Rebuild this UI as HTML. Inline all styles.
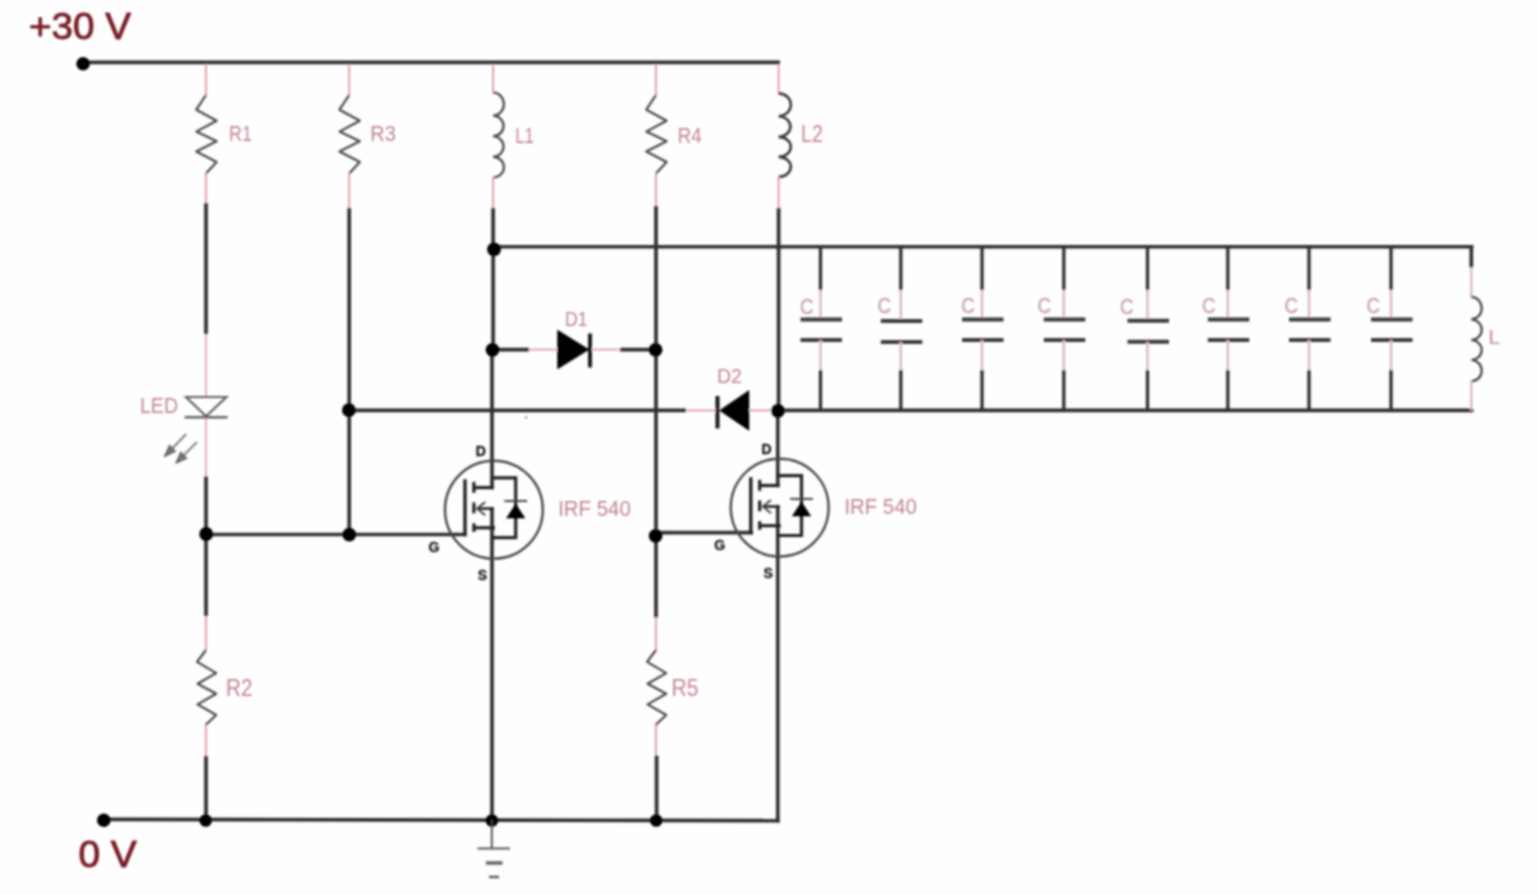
<!DOCTYPE html>
<html><head><meta charset="utf-8"><title>ZVS driver schematic</title>
<style>
html,body{margin:0;padding:0;background:#fff;}
body{width:1537px;height:895px;overflow:hidden;}
svg{display:block;font-family:"Liberation Sans",sans-serif;}
</style></head><body>
<svg width="1537" height="895" viewBox="0 0 1537 895">
<defs><filter id="b" x="-5%" y="-5%" width="110%" height="110%"><feGaussianBlur stdDeviation="0.8"/></filter></defs>
<rect width="1537" height="895" fill="#fefefe"/>
<g filter="url(#b)">
<line x1="83" y1="62.3" x2="780" y2="62.3" stroke="#2e2e2e" stroke-width="3.8" stroke-linecap="butt"/>
<circle cx="83.1" cy="63.7" r="6.8" fill="#000"/>
<line x1="104" y1="819.4" x2="779.55" y2="820.7" stroke="#2e2e2e" stroke-width="3.7" stroke-linecap="butt"/>
<circle cx="103.8" cy="820.2" r="6.8" fill="#000"/>
<line x1="206" y1="64" x2="206" y2="95" stroke="#e0959e" stroke-width="1.8" stroke-linecap="butt"/>
<path d="M206.0,95.0 L196.3,109.7 L216.6,120.8 L196.3,131.6 L216.6,141.3 L196.3,151.6 L216.6,162.0 L206.0,173.4" stroke="#444" stroke-width="2.2" fill="none" stroke-linejoin="round" stroke-linecap="butt"/>
<line x1="206" y1="173" x2="206" y2="203" stroke="#e0959e" stroke-width="1.8" stroke-linecap="butt"/>
<line x1="206" y1="203" x2="206" y2="334" stroke="#2e2e2e" stroke-width="3.7" stroke-linecap="butt"/>
<line x1="206" y1="334" x2="206" y2="397" stroke="#dc8e98" stroke-width="1.4" stroke-linecap="butt"/>
<path d="M186,397 L226.4,397 L206.1,416.2 Z" stroke="#606060" stroke-width="2.2" fill="none" stroke-linejoin="miter" stroke-linecap="butt"/>
<line x1="184.6" y1="417.2" x2="227.6" y2="417.2" stroke="#606060" stroke-width="2.4" stroke-linecap="butt"/>
<line x1="206" y1="418" x2="206" y2="476.5" stroke="#dc8e98" stroke-width="1.4" stroke-linecap="butt"/>
<line x1="206" y1="476.5" x2="206" y2="616" stroke="#2e2e2e" stroke-width="3.7" stroke-linecap="butt"/>
<line x1="206" y1="616" x2="206" y2="650" stroke="#e0959e" stroke-width="1.8" stroke-linecap="butt"/>
<path d="M206.0,650.0 L197.1,661.9 L216.2,673.1 L197.6,683.8 L216.2,693.8 L197.6,704.4 L216.2,715.0 L205.6,725.0" stroke="#444" stroke-width="2.2" fill="none" stroke-linejoin="round" stroke-linecap="butt"/>
<line x1="206" y1="725" x2="206" y2="756" stroke="#e0959e" stroke-width="1.8" stroke-linecap="butt"/>
<line x1="206" y1="756" x2="206" y2="819.8" stroke="#2e2e2e" stroke-width="3.7" stroke-linecap="butt"/>
<line x1="186.2" y1="434" x2="164.8" y2="456.2" stroke="#808080" stroke-width="2" stroke-linecap="butt"/>
<path d="M164.8,456.2 L169.4,445.6 L175.2,451.3 Z" stroke="#555" stroke-width="1.2" fill="#777" stroke-linejoin="miter" stroke-linecap="butt"/>
<line x1="197" y1="442" x2="176.1" y2="462.9" stroke="#808080" stroke-width="2" stroke-linecap="butt"/>
<path d="M176.1,462.9 L180.8,452.4 L186.6,458.2 Z" stroke="#555" stroke-width="1.2" fill="#777" stroke-linejoin="miter" stroke-linecap="butt"/>
<line x1="349.2" y1="64" x2="349.2" y2="95" stroke="#e0959e" stroke-width="1.8" stroke-linecap="butt"/>
<path d="M349.2,95.0 L339.5,109.7 L359.8,120.8 L339.5,131.6 L359.8,141.3 L339.5,151.6 L359.8,162.0 L349.2,173.4" stroke="#444" stroke-width="2.2" fill="none" stroke-linejoin="round" stroke-linecap="butt"/>
<line x1="349.2" y1="173" x2="349.2" y2="208" stroke="#e0959e" stroke-width="1.8" stroke-linecap="butt"/>
<line x1="349.2" y1="208" x2="349.2" y2="534.5" stroke="#2e2e2e" stroke-width="3.7" stroke-linecap="butt"/>
<line x1="493.1" y1="64" x2="493.1" y2="92.5" stroke="#e0959e" stroke-width="1.8" stroke-linecap="butt"/>
<path d="M493.1,92.5 A10.8,11.55 0 0 1 493.1,115.60 A10.8,10.33 0 0 1 493.1,136.25 A10.8,10.33 0 0 1 493.1,156.90 A10.8,10.30 0 0 1 493.1,177.50" stroke="#444" stroke-width="2.2" fill="none" stroke-linejoin="miter" stroke-linecap="butt"/>
<line x1="493.1" y1="177.5" x2="493.1" y2="208" stroke="#e0959e" stroke-width="1.8" stroke-linecap="butt"/>
<line x1="493.1" y1="208" x2="493.1" y2="350" stroke="#2e2e2e" stroke-width="3.7" stroke-linecap="butt"/>
<line x1="492" y1="348" x2="492" y2="489.3" stroke="#2e2e2e" stroke-width="3.7" stroke-linecap="butt"/>
<line x1="492" y1="507.09999999999997" x2="492" y2="819.8" stroke="#2e2e2e" stroke-width="3.7" stroke-linecap="butt"/>
<line x1="656" y1="64" x2="656" y2="95" stroke="#e0959e" stroke-width="1.8" stroke-linecap="butt"/>
<path d="M656.0,95.0 L646.3,109.7 L666.6,120.8 L646.3,131.6 L666.6,141.3 L646.3,151.6 L666.6,162.0 L656.0,173.4" stroke="#444" stroke-width="2.2" fill="none" stroke-linejoin="round" stroke-linecap="butt"/>
<line x1="656" y1="173" x2="656" y2="206" stroke="#e0959e" stroke-width="1.8" stroke-linecap="butt"/>
<line x1="656" y1="206" x2="656" y2="617.5" stroke="#2e2e2e" stroke-width="3.7" stroke-linecap="butt"/>
<line x1="656" y1="617.5" x2="656" y2="650" stroke="#e0959e" stroke-width="1.8" stroke-linecap="butt"/>
<path d="M656.0,650.0 L647.1,661.9 L666.2,673.1 L647.6,683.8 L666.2,693.8 L647.6,704.4 L666.2,715.0 L655.6,725.0" stroke="#444" stroke-width="2.2" fill="none" stroke-linejoin="round" stroke-linecap="butt"/>
<line x1="656" y1="725" x2="656" y2="755.6" stroke="#e0959e" stroke-width="1.8" stroke-linecap="butt"/>
<line x1="656.6" y1="755.6" x2="656.6" y2="819.8" stroke="#2e2e2e" stroke-width="3.7" stroke-linecap="butt"/>
<line x1="778.6" y1="64" x2="778.6" y2="93.5" stroke="#e0959e" stroke-width="1.8" stroke-linecap="butt"/>
<path d="M778.6,93.4 A12.2,11.42 0 0 1 778.6,116.25 A12.2,10.33 0 0 1 778.6,136.90 A12.2,10.00 0 0 1 778.6,156.90 A12.2,10.00 0 0 1 778.6,176.90" stroke="#383838" stroke-width="2.6" fill="none" stroke-linejoin="miter" stroke-linecap="butt"/>
<line x1="778.6" y1="176.9" x2="778.6" y2="208" stroke="#e0959e" stroke-width="1.8" stroke-linecap="butt"/>
<line x1="778.6" y1="208" x2="778.6" y2="412" stroke="#2e2e2e" stroke-width="3.7" stroke-linecap="butt"/>
<line x1="777.8" y1="410" x2="777.8" y2="487.20000000000005" stroke="#2e2e2e" stroke-width="3.7" stroke-linecap="butt"/>
<line x1="777.8" y1="505.0" x2="777.8" y2="822.5" stroke="#2e2e2e" stroke-width="3.7" stroke-linecap="butt"/>
<line x1="493.1" y1="246.8" x2="1473.4" y2="246.8" stroke="#2e2e2e" stroke-width="3.6" stroke-linecap="butt"/>
<line x1="349.2" y1="410.4" x2="686" y2="410.4" stroke="#2e2e2e" stroke-width="3.6" stroke-linecap="butt"/>
<line x1="686" y1="410.4" x2="778" y2="410.4" stroke="#e6bcc2" stroke-width="2.6" stroke-linecap="butt"/>
<line x1="778" y1="410.4" x2="1473.4" y2="410.4" stroke="#2e2e2e" stroke-width="3.6" stroke-linecap="butt"/>
<line x1="206" y1="534.5" x2="466.4" y2="534.5" stroke="#2e2e2e" stroke-width="3.7" stroke-linecap="butt"/>
<line x1="656" y1="532.6" x2="753" y2="532.6" stroke="#2e2e2e" stroke-width="3.7" stroke-linecap="butt"/>
<line x1="492" y1="349.6" x2="529" y2="349.6" stroke="#2e2e2e" stroke-width="3.7" stroke-linecap="butt"/>
<line x1="529" y1="349.6" x2="557.5" y2="349.6" stroke="#e6bcc2" stroke-width="2.6" stroke-linecap="butt"/>
<path d="M557.5,330.1 L557.5,369.1 L589,349.6 Z" stroke="#000" stroke-width="0.5" fill="#000" stroke-linejoin="miter" stroke-linecap="butt"/>
<line x1="590" y1="333.5" x2="590" y2="367.5" stroke="#111" stroke-width="3.8" stroke-linecap="butt"/>
<line x1="592" y1="349.6" x2="620" y2="349.6" stroke="#e6bcc2" stroke-width="2.6" stroke-linecap="butt"/>
<line x1="620" y1="349.6" x2="656" y2="349.6" stroke="#2e2e2e" stroke-width="3.7" stroke-linecap="butt"/>
<path d="M749,390.4 L749,430.4 L719.5,410.4 Z" stroke="#000" stroke-width="0.5" fill="#000" stroke-linejoin="miter" stroke-linecap="butt"/>
<line x1="717.5" y1="396" x2="717.5" y2="428.5" stroke="#111" stroke-width="3.8" stroke-linecap="butt"/>
<line x1="820.5" y1="246.8" x2="820.5" y2="290" stroke="#2e2e2e" stroke-width="3.3" stroke-linecap="butt"/>
<line x1="820.5" y1="290" x2="820.5" y2="319.5" stroke="#dfb6bd" stroke-width="2.5" stroke-linecap="butt"/>
<line x1="800.5" y1="319.5" x2="842.0" y2="319.5" stroke="#3a3a3a" stroke-width="4" stroke-linecap="butt"/>
<line x1="800.5" y1="340" x2="842.0" y2="340" stroke="#3a3a3a" stroke-width="4" stroke-linecap="butt"/>
<line x1="820.5" y1="340" x2="820.5" y2="370" stroke="#dfb6bd" stroke-width="2.5" stroke-linecap="butt"/>
<line x1="820.5" y1="370" x2="820.5" y2="410.4" stroke="#2e2e2e" stroke-width="3.3" stroke-linecap="butt"/>
<line x1="900.8" y1="246.8" x2="900.8" y2="290" stroke="#2e2e2e" stroke-width="3.3" stroke-linecap="butt"/>
<line x1="900.8" y1="290" x2="900.8" y2="321" stroke="#dfb6bd" stroke-width="2.5" stroke-linecap="butt"/>
<line x1="880.8" y1="321" x2="922.3" y2="321" stroke="#3a3a3a" stroke-width="4" stroke-linecap="butt"/>
<line x1="880.8" y1="342" x2="922.3" y2="342" stroke="#3a3a3a" stroke-width="4" stroke-linecap="butt"/>
<line x1="900.8" y1="342" x2="900.8" y2="370" stroke="#dfb6bd" stroke-width="2.5" stroke-linecap="butt"/>
<line x1="900.8" y1="370" x2="900.8" y2="410.4" stroke="#2e2e2e" stroke-width="3.3" stroke-linecap="butt"/>
<line x1="982" y1="246.8" x2="982" y2="290" stroke="#2e2e2e" stroke-width="3.3" stroke-linecap="butt"/>
<line x1="982" y1="290" x2="982" y2="319.5" stroke="#dfb6bd" stroke-width="2.5" stroke-linecap="butt"/>
<line x1="962" y1="319.5" x2="1003.5" y2="319.5" stroke="#3a3a3a" stroke-width="4" stroke-linecap="butt"/>
<line x1="962" y1="340" x2="1003.5" y2="340" stroke="#3a3a3a" stroke-width="4" stroke-linecap="butt"/>
<line x1="982" y1="340" x2="982" y2="370" stroke="#dfb6bd" stroke-width="2.5" stroke-linecap="butt"/>
<line x1="982" y1="370" x2="982" y2="410.4" stroke="#2e2e2e" stroke-width="3.3" stroke-linecap="butt"/>
<line x1="1063.8" y1="246.8" x2="1063.8" y2="290" stroke="#2e2e2e" stroke-width="3.3" stroke-linecap="butt"/>
<line x1="1063.8" y1="290" x2="1063.8" y2="319.5" stroke="#dfb6bd" stroke-width="2.5" stroke-linecap="butt"/>
<line x1="1043.8" y1="319.5" x2="1085.3" y2="319.5" stroke="#3a3a3a" stroke-width="4" stroke-linecap="butt"/>
<line x1="1043.8" y1="340" x2="1085.3" y2="340" stroke="#3a3a3a" stroke-width="4" stroke-linecap="butt"/>
<line x1="1063.8" y1="340" x2="1063.8" y2="370" stroke="#dfb6bd" stroke-width="2.5" stroke-linecap="butt"/>
<line x1="1063.8" y1="370" x2="1063.8" y2="410.4" stroke="#2e2e2e" stroke-width="3.3" stroke-linecap="butt"/>
<line x1="1147.5" y1="246.8" x2="1147.5" y2="290" stroke="#2e2e2e" stroke-width="3.3" stroke-linecap="butt"/>
<line x1="1147.5" y1="290" x2="1147.5" y2="320.8" stroke="#dfb6bd" stroke-width="2.5" stroke-linecap="butt"/>
<line x1="1127.5" y1="320.8" x2="1169.0" y2="320.8" stroke="#3a3a3a" stroke-width="4" stroke-linecap="butt"/>
<line x1="1127.5" y1="341.8" x2="1169.0" y2="341.8" stroke="#3a3a3a" stroke-width="4" stroke-linecap="butt"/>
<line x1="1147.5" y1="341.8" x2="1147.5" y2="370" stroke="#dfb6bd" stroke-width="2.5" stroke-linecap="butt"/>
<line x1="1147.5" y1="370" x2="1147.5" y2="410.4" stroke="#2e2e2e" stroke-width="3.3" stroke-linecap="butt"/>
<line x1="1227.8" y1="246.8" x2="1227.8" y2="290" stroke="#2e2e2e" stroke-width="3.3" stroke-linecap="butt"/>
<line x1="1227.8" y1="290" x2="1227.8" y2="319.5" stroke="#dfb6bd" stroke-width="2.5" stroke-linecap="butt"/>
<line x1="1207.8" y1="319.5" x2="1249.3" y2="319.5" stroke="#3a3a3a" stroke-width="4" stroke-linecap="butt"/>
<line x1="1207.8" y1="340" x2="1249.3" y2="340" stroke="#3a3a3a" stroke-width="4" stroke-linecap="butt"/>
<line x1="1227.8" y1="340" x2="1227.8" y2="370" stroke="#dfb6bd" stroke-width="2.5" stroke-linecap="butt"/>
<line x1="1227.8" y1="370" x2="1227.8" y2="410.4" stroke="#2e2e2e" stroke-width="3.3" stroke-linecap="butt"/>
<line x1="1309" y1="246.8" x2="1309" y2="290" stroke="#2e2e2e" stroke-width="3.3" stroke-linecap="butt"/>
<line x1="1309" y1="290" x2="1309" y2="319.5" stroke="#dfb6bd" stroke-width="2.5" stroke-linecap="butt"/>
<line x1="1289" y1="319.5" x2="1330.5" y2="319.5" stroke="#3a3a3a" stroke-width="4" stroke-linecap="butt"/>
<line x1="1289" y1="340" x2="1330.5" y2="340" stroke="#3a3a3a" stroke-width="4" stroke-linecap="butt"/>
<line x1="1309" y1="340" x2="1309" y2="370" stroke="#dfb6bd" stroke-width="2.5" stroke-linecap="butt"/>
<line x1="1309" y1="370" x2="1309" y2="410.4" stroke="#2e2e2e" stroke-width="3.3" stroke-linecap="butt"/>
<line x1="1391" y1="246.8" x2="1391" y2="290" stroke="#2e2e2e" stroke-width="3.3" stroke-linecap="butt"/>
<line x1="1391" y1="290" x2="1391" y2="319.5" stroke="#dfb6bd" stroke-width="2.5" stroke-linecap="butt"/>
<line x1="1371" y1="319.5" x2="1412.5" y2="319.5" stroke="#3a3a3a" stroke-width="4" stroke-linecap="butt"/>
<line x1="1371" y1="340" x2="1412.5" y2="340" stroke="#3a3a3a" stroke-width="4" stroke-linecap="butt"/>
<line x1="1391" y1="340" x2="1391" y2="370" stroke="#dfb6bd" stroke-width="2.5" stroke-linecap="butt"/>
<line x1="1391" y1="370" x2="1391" y2="410.4" stroke="#2e2e2e" stroke-width="3.3" stroke-linecap="butt"/>
<text x="800" y="314.4" font-size="22.4" fill="#cda4ad" font-weight="normal" text-anchor="start" textLength="13.6" lengthAdjust="spacingAndGlyphs" stroke="#cda4ad" stroke-width="0.55">C</text>
<text x="877.5" y="313.2" font-size="22.4" fill="#cda4ad" font-weight="normal" text-anchor="start" textLength="13.6" lengthAdjust="spacingAndGlyphs" stroke="#cda4ad" stroke-width="0.55">C</text>
<text x="961.2" y="312.59999999999997" font-size="22.4" fill="#cda4ad" font-weight="normal" text-anchor="start" textLength="13.6" lengthAdjust="spacingAndGlyphs" stroke="#cda4ad" stroke-width="0.55">C</text>
<text x="1037.5" y="313.2" font-size="22.4" fill="#cda4ad" font-weight="normal" text-anchor="start" textLength="13.6" lengthAdjust="spacingAndGlyphs" stroke="#cda4ad" stroke-width="0.55">C</text>
<text x="1120" y="313.79999999999995" font-size="22.4" fill="#cda4ad" font-weight="normal" text-anchor="start" textLength="13.6" lengthAdjust="spacingAndGlyphs" stroke="#cda4ad" stroke-width="0.55">C</text>
<text x="1202" y="313.4" font-size="22.4" fill="#cda4ad" font-weight="normal" text-anchor="start" textLength="13.6" lengthAdjust="spacingAndGlyphs" stroke="#cda4ad" stroke-width="0.55">C</text>
<text x="1284.5" y="313.4" font-size="22.4" fill="#cda4ad" font-weight="normal" text-anchor="start" textLength="13.6" lengthAdjust="spacingAndGlyphs" stroke="#cda4ad" stroke-width="0.55">C</text>
<text x="1366.5" y="313.4" font-size="22.4" fill="#cda4ad" font-weight="normal" text-anchor="start" textLength="13.6" lengthAdjust="spacingAndGlyphs" stroke="#cda4ad" stroke-width="0.55">C</text>
<line x1="1471.3" y1="246.8" x2="1471.3" y2="267.5" stroke="#2e2e2e" stroke-width="3.7" stroke-linecap="butt"/>
<line x1="1471.3" y1="267.5" x2="1471.3" y2="296.9" stroke="#dfb6bd" stroke-width="2.4" stroke-linecap="butt"/>
<path d="M1471.3,296.9 A10.4,11.25 0 0 1 1471.3,319.40 A10.4,10.30 0 0 1 1471.3,340.00 A10.4,10.00 0 0 1 1471.3,360.00 A10.4,10.62 0 0 1 1471.3,381.25" stroke="#444" stroke-width="2.2" fill="none" stroke-linejoin="miter" stroke-linecap="butt"/>
<line x1="1471.3" y1="381.25" x2="1471.3" y2="410.4" stroke="#dfb6bd" stroke-width="2.4" stroke-linecap="butt"/>
<text x="1488.5" y="344" font-size="21" fill="#c2848d" font-weight="normal" text-anchor="start" textLength="11.5" lengthAdjust="spacingAndGlyphs">L</text>
<circle cx="494" cy="249.4" r="6.9" fill="#000"/>
<circle cx="492.5" cy="349.8" r="6.9" fill="#000"/>
<circle cx="655.6" cy="349.8" r="6.9" fill="#000"/>
<circle cx="348.9" cy="410.2" r="6.9" fill="#000"/>
<circle cx="778" cy="410.8" r="6.9" fill="#000"/>
<circle cx="206.2" cy="534" r="6.9" fill="#000"/>
<circle cx="349.3" cy="534.6" r="6.9" fill="#000"/>
<circle cx="655.6" cy="535.8" r="6.9" fill="#000"/>
<circle cx="205.7" cy="820.5" r="6.3" fill="#000"/>
<circle cx="491.9" cy="820.5" r="6.3" fill="#000"/>
<circle cx="656.2" cy="820.5" r="6.3" fill="#000"/>
<line x1="491.8" y1="819.8" x2="491.8" y2="848.5" stroke="#444" stroke-width="1.8" stroke-linecap="butt"/>
<line x1="477.5" y1="848.5" x2="510" y2="848.5" stroke="#555" stroke-width="2.2" stroke-linecap="butt"/>
<line x1="486" y1="863" x2="502.5" y2="863" stroke="#666" stroke-width="3.6" stroke-linecap="butt"/>
<line x1="489" y1="877" x2="499" y2="877" stroke="#555" stroke-width="2.4" stroke-linecap="butt"/>
<circle cx="493.9" cy="509.7" r="48.9" fill="none" stroke="#444" stroke-width="2.4"/>
<line x1="465" y1="479.3" x2="465" y2="536.25" stroke="#242424" stroke-width="3.4" stroke-linecap="butt"/>
<line x1="473.9" y1="481.9" x2="473.9" y2="492.9" stroke="#242424" stroke-width="3.2" stroke-linecap="butt"/>
<line x1="473.9" y1="502.5" x2="473.9" y2="513.3" stroke="#242424" stroke-width="3.2" stroke-linecap="butt"/>
<line x1="473.9" y1="523.3" x2="473.9" y2="531.9" stroke="#242424" stroke-width="3.2" stroke-linecap="butt"/>
<path d="M473.9,487.59999999999997 L493.6,487.59999999999997" stroke="#242424" stroke-width="3.2" fill="none" stroke-linejoin="miter" stroke-linecap="butt"/>
<path d="M492,477.8 L515.7,477.8 L515.7,537.6 L492,537.6" stroke="#242424" stroke-width="3.2" fill="none" stroke-linejoin="miter" stroke-linecap="butt"/>
<path d="M473.9,527.8 L495,527.8" stroke="#242424" stroke-width="3.2" fill="none" stroke-linejoin="miter" stroke-linecap="butt"/>
<path d="M477.9,508.59999999999997 L493.6,508.59999999999997" stroke="#242424" stroke-width="2.6" fill="none" stroke-linejoin="miter" stroke-linecap="butt"/>
<path d="M485.2,502.09999999999997 L477.09999999999997,508.59999999999997 L485.2,515.3" stroke="#444" stroke-width="2" fill="none" stroke-linejoin="miter" stroke-linecap="butt"/>
<path d="M506.50000000000006,518.1 L524.9000000000001,518.1 L515.7,504.09999999999997 Z" stroke="#000" stroke-width="0.6" fill="#000" stroke-linejoin="miter" stroke-linecap="butt"/>
<line x1="504.30000000000007" y1="501.0" x2="527.1" y2="501.0" stroke="#444" stroke-width="2" stroke-linecap="butt"/>
<text x="480.7" y="455.59999999999997" font-size="14" fill="#141414" font-weight="bold" text-anchor="middle" stroke="#141414" stroke-width="0.3">D</text>
<text x="434" y="552.3" font-size="14" fill="#141414" font-weight="bold" text-anchor="middle" stroke="#141414" stroke-width="0.3">G</text>
<text x="482.4" y="579.7" font-size="14" fill="#141414" font-weight="bold" text-anchor="middle" stroke="#141414" stroke-width="0.3">S</text>
<circle cx="779.6999999999999" cy="507.6" r="48.9" fill="none" stroke="#444" stroke-width="2.4"/>
<line x1="750.8" y1="477.20000000000005" x2="750.8" y2="534.35" stroke="#242424" stroke-width="3.4" stroke-linecap="butt"/>
<line x1="759.6999999999999" y1="479.8" x2="759.6999999999999" y2="490.8" stroke="#242424" stroke-width="3.2" stroke-linecap="butt"/>
<line x1="759.6999999999999" y1="500.40000000000003" x2="759.6999999999999" y2="511.20000000000005" stroke="#242424" stroke-width="3.2" stroke-linecap="butt"/>
<line x1="759.6999999999999" y1="521.2" x2="759.6999999999999" y2="529.8000000000001" stroke="#242424" stroke-width="3.2" stroke-linecap="butt"/>
<path d="M759.6999999999999,485.5 L779.4,485.5" stroke="#242424" stroke-width="3.2" fill="none" stroke-linejoin="miter" stroke-linecap="butt"/>
<path d="M777.8,475.70000000000005 L801.5,475.70000000000005 L801.5,535.5 L777.8,535.5" stroke="#242424" stroke-width="3.2" fill="none" stroke-linejoin="miter" stroke-linecap="butt"/>
<path d="M759.6999999999999,525.7 L780.8,525.7" stroke="#242424" stroke-width="3.2" fill="none" stroke-linejoin="miter" stroke-linecap="butt"/>
<path d="M763.6999999999999,506.5 L779.4,506.5" stroke="#242424" stroke-width="2.6" fill="none" stroke-linejoin="miter" stroke-linecap="butt"/>
<path d="M770.9999999999999,500.0 L762.9,506.5 L770.9999999999999,513.2" stroke="#444" stroke-width="2" fill="none" stroke-linejoin="miter" stroke-linecap="butt"/>
<path d="M792.3,516.0 L810.7,516.0 L801.5,502.0 Z" stroke="#000" stroke-width="0.6" fill="#000" stroke-linejoin="miter" stroke-linecap="butt"/>
<line x1="790.1" y1="498.90000000000003" x2="812.9" y2="498.90000000000003" stroke="#444" stroke-width="2" stroke-linecap="butt"/>
<text x="766.5" y="453.5" font-size="14" fill="#141414" font-weight="bold" text-anchor="middle" stroke="#141414" stroke-width="0.3">D</text>
<text x="719.8" y="550.2" font-size="14" fill="#141414" font-weight="bold" text-anchor="middle" stroke="#141414" stroke-width="0.3">G</text>
<text x="768.1999999999999" y="577.6" font-size="14" fill="#141414" font-weight="bold" text-anchor="middle" stroke="#141414" stroke-width="0.3">S</text>
<text x="558.2" y="515.6" font-size="22.6" fill="#c2848d" font-weight="normal" text-anchor="start" textLength="72.6" lengthAdjust="spacingAndGlyphs">IRF 540</text>
<text x="844.4" y="513.6" font-size="22.6" fill="#c2848d" font-weight="normal" text-anchor="start" textLength="72.4" lengthAdjust="spacingAndGlyphs">IRF 540</text>
<text x="229" y="141.2" font-size="22.5" fill="#c2848d" font-weight="normal" text-anchor="start" textLength="23" lengthAdjust="spacingAndGlyphs">R1</text>
<text x="370.2" y="141.2" font-size="22.5" fill="#c2848d" font-weight="normal" text-anchor="start" textLength="25.6" lengthAdjust="spacingAndGlyphs">R3</text>
<text x="515.2" y="143" font-size="21.5" fill="#c2848d" font-weight="normal" text-anchor="start" textLength="18.8" lengthAdjust="spacingAndGlyphs">L1</text>
<text x="677.8" y="142.6" font-size="22.6" fill="#c2848d" font-weight="normal" text-anchor="start" textLength="24" lengthAdjust="spacingAndGlyphs">R4</text>
<text x="801" y="141.8" font-size="23.6" fill="#c2848d" font-weight="normal" text-anchor="start" textLength="21.8" lengthAdjust="spacingAndGlyphs">L2</text>
<text x="140" y="413.4" font-size="22.5" fill="#c2848d" font-weight="normal" text-anchor="start" textLength="38" lengthAdjust="spacingAndGlyphs">LED</text>
<text x="565" y="326" font-size="20.5" fill="#c2848d" font-weight="normal" text-anchor="start" textLength="22.6" lengthAdjust="spacingAndGlyphs">D1</text>
<text x="717" y="383" font-size="20.5" fill="#c2848d" font-weight="normal" text-anchor="start" textLength="25" lengthAdjust="spacingAndGlyphs">D2</text>
<text x="226" y="695.5" font-size="24" fill="#c2848d" font-weight="normal" text-anchor="start" textLength="26.4" lengthAdjust="spacingAndGlyphs">R2</text>
<text x="671.4" y="695.5" font-size="24" fill="#c2848d" font-weight="normal" text-anchor="start" textLength="27" lengthAdjust="spacingAndGlyphs">R5</text>
<text x="29" y="38.8" font-size="37.8" fill="#761f26" font-weight="normal" text-anchor="start" textLength="102" lengthAdjust="spacingAndGlyphs" stroke="#761f26" stroke-width="0.9" stroke-linejoin="round">+30 V</text>
<text x="78.4" y="867.4" font-size="37.2" fill="#761f26" font-weight="normal" text-anchor="start" textLength="58.4" lengthAdjust="spacingAndGlyphs" stroke="#761f26" stroke-width="0.9" stroke-linejoin="round">0 V</text>
<circle cx="526" cy="417.5" r="1.2" fill="#999"/>
</g>
</svg>
</body></html>
